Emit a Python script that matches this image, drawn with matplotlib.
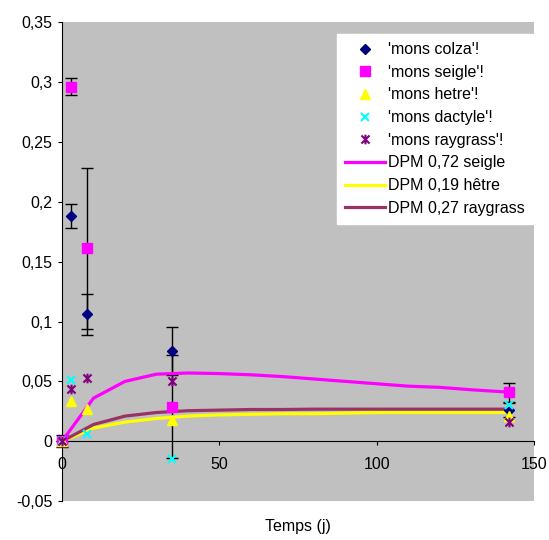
import matplotlib
matplotlib.use("Agg")
import numpy as np
from matplotlib import pyplot as plt
from matplotlib.path import Path
from matplotlib.ticker import FuncFormatter

plt.rcParams["font.family"] = ["Liberation Sans", "DejaVu Sans"]
plt.rcParams["font.size"] = 11.5

# measured points (days, value, error)
days = [0, 3, 8, 35, 142]
colza = [0, 0.188, 0.106, 0.075, 0.026]
colza_err = [0.005, 0.010, 0.017, 0.020, 0.006]
seigle = [0, 0.296, 0.161, 0.029, 0.041]
seigle_err = [0, 0.007, 0.067, 0.043, 0.008]
hetre = [0, 0.034, 0.027, 0.018, 0.021]
dactyle = [0, 0.051, 0.006, -0.015, 0.030]
raygrass = [0, 0.044, 0.053, 0.050, 0.016]

# model curves
model_days = [0, 10, 20, 30, 40, 50, 60, 70, 80, 90, 100, 110, 120, 130, 142]
dpm_seigle = [0, 0.036, 0.050, 0.056, 0.057, 0.0565, 0.0555, 0.054, 0.052,
              0.050, 0.048, 0.046, 0.045, 0.043, 0.041]
dpm_hetre = [0, 0.011, 0.016, 0.019, 0.021, 0.022, 0.0225, 0.023, 0.023,
             0.0235, 0.024, 0.024, 0.024, 0.024, 0.024]
dpm_raygrass = [0, 0.014, 0.021, 0.024, 0.0255, 0.026, 0.0265, 0.0265, 0.0268,
                0.0268, 0.0268, 0.0268, 0.0268, 0.0268, 0.0268]

xticks = [0, 50, 100, 150]
yticks = [-0.05, 0, 0.05, 0.1, 0.15, 0.2, 0.25, 0.3, 0.35]

# excel-like star marker: x with a vertical bar
star = Path([(-1, -1), (1, 1), (-1, 1), (1, -1), (0, -1.2), (0, 1.2)],
            [Path.MOVETO, Path.LINETO, Path.MOVETO, Path.LINETO, Path.MOVETO, Path.LINETO])

fig = plt.figure(figsize=(5.49, 5.4), dpi=100)
ax = fig.add_axes([0.113, 0.072, 0.860, 0.887])
ax.set_facecolor("#C0C0C0")

ekw = dict(ecolor="black", elinewidth=1, capsize=4, capthick=1, clip_on=False)
ax.errorbar(days, colza, yerr=colza_err, fmt="none", zorder=3, **ekw)
ax.errorbar(days, seigle, yerr=seigle_err, fmt="none", zorder=3, **ekw)

ax.plot(days, colza, ls="none", marker="D", ms=5.5, color="#000080", label="'mons colza'!", zorder=5, clip_on=False)
ax.plot(days, seigle, ls="none", marker="s", ms=6.5, color="#FF00FF", label="'mons seigle'!", zorder=5, clip_on=False)
ax.plot(days, hetre, ls="none", marker="^", ms=6.5, color="#FFFF00", label="'mons hetre'!", zorder=5, clip_on=False)
ax.plot(days, dactyle, ls="none", marker="x", ms=6, mew=1.5, color="#00FFFF", label="'mons dactyle'!", zorder=5, clip_on=False)
ax.plot(days, raygrass, ls="none", marker=star, ms=7, mew=1.5, color="#800080", label="'mons raygrass'!", zorder=5, clip_on=False)

ax.plot(model_days, dpm_seigle, color="#FF00FF", lw=2.3, label="DPM 0,72 seigle", zorder=4)
ax.plot(model_days, dpm_hetre, color="#FFFF00", lw=2.3, label="DPM 0,19 hêtre", zorder=4)
ax.plot(model_days, dpm_raygrass, color="#993366", lw=2.3, label="DPM 0,27 raygrass", zorder=4)

ax.set_xlim(0, 150)
ax.set_ylim(-0.05, 0.35)
ax.set_xticks(xticks)
ax.set_yticks(yticks)
ax.yaxis.set_major_formatter(FuncFormatter(lambda v, p: ("%g" % round(v, 2)).replace(".", ",")))

ax.spines["top"].set_visible(False)
ax.spines["right"].set_visible(False)
ax.spines["bottom"].set_position(("data", 0))
ax.spines["left"].set_position(("data", 0))
ax.tick_params(axis="both", direction="out", length=3)
ax.tick_params(axis="y", pad=4)
ax.tick_params(axis="x", pad=8)

ax.set_xlabel("Temps (j)")
ax.xaxis.set_label_coords(0.5, -0.038)

leg = ax.legend(loc="upper right", bbox_to_anchor=(0.998, 0.975), frameon=True, fancybox=False,
                framealpha=1, facecolor="white", edgecolor="white",
                handlelength=2.5, handletextpad=0.2, labelspacing=0.48, borderpad=0.5, borderaxespad=0)
leg.set_zorder(10)

fig.savefig("out.png", dpi=100)
